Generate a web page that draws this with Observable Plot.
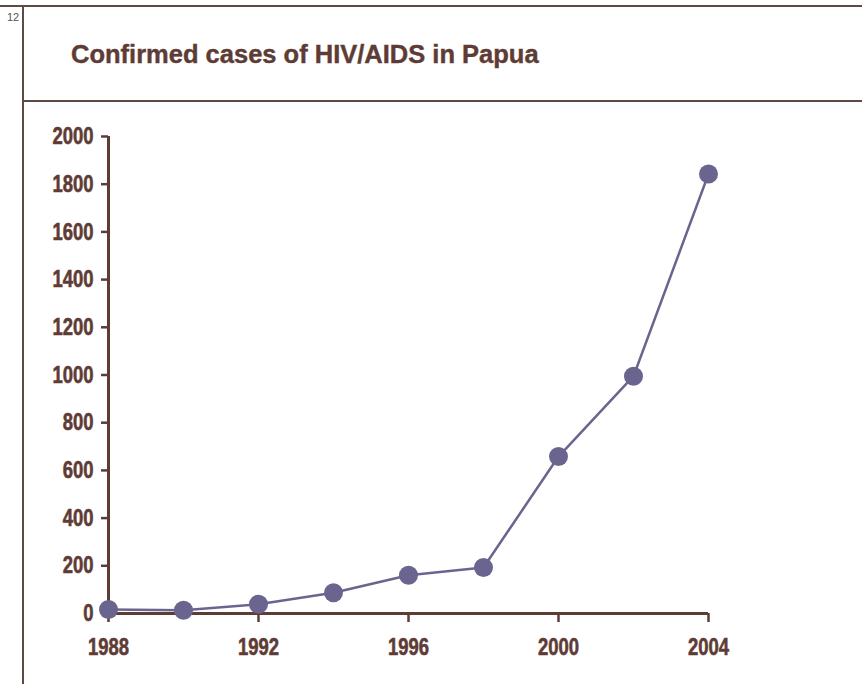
<!DOCTYPE html>
<html>
<head>
<meta charset="utf-8">
<script src="https://cdn.jsdelivr.net/npm/d3@7"></script>
<script src="https://cdn.jsdelivr.net/npm/@observablehq/plot@0.6"></script>
<style>
  html, body { margin: 0; padding: 0; background: #fff; }
  #page { position: relative; width: 862px; height: 684px; overflow: hidden; background: #fff; }
  .frame { position: absolute; background: #5e4a45; }
  #pnum { position: absolute; left: 7px; top: 11px; font: 11px "Liberation Sans", Arial, sans-serif; color: #555; }
  #title { position: absolute; left: 71px; top: 40px; font: bold 25.5px "Liberation Sans", Arial, sans-serif; color: #5e3c35; white-space: nowrap; -webkit-text-stroke: 0.4px #5e3c35; }
  #chart { position: absolute; left: 0; top: 100px; }
</style>
</head>
<body>
<div id="page">
  <div class="frame" style="left:0;top:5px;width:862px;height:1.5px;"></div>
  <div class="frame" style="left:22px;top:5px;width:1.5px;height:679px;"></div>
  <div class="frame" style="left:22px;top:100px;width:840px;height:1.5px;"></div>
  <div id="pnum">12</div>
  <div id="title">Confirmed cases of HIV/AIDS in Papua</div>
  <div id="chart"></div>
</div>
<script>
const years = [1988, 1990, 1992, 1994, 1996, 1998, 2000, 2002, 2004];
const cases = [17, 14, 39, 87, 160, 193, 658, 995, 1843];
const xTicks = [1988, 1992, 1996, 2000, 2004];
const yTicks = [0, 200, 400, 600, 800, 1000, 1200, 1400, 1600, 1800, 2000];

const data = years.map((y, i) => ({year: y, cases: cases[i]}));
const brown = "#5e3c35";
const line = "#69658f";
const font = '"Liberation Sans", Arial, sans-serif';

const plot = Plot.plot({
  width: 862,
  height: 584,
  marginLeft: 108,
  marginRight: 154,
  marginTop: 36,
  marginBottom: 71,
  style: {fontFamily: font, fontSize: "24px", fontWeight: "bold", color: brown, overflow: "visible"},
  x: {domain: [1988, 2004]},
  y: {domain: [0, 2000]},
  marks: [
    Plot.axisY({ticks: yTicks, tickSize: 7, tickPadding: 8, tickFormat: d => String(d), label: null, stroke: brown, strokeWidth: 2.5, fill: brown, fontSize: 24, fontWeight: "bold"}),
    Plot.axisX({ticks: xTicks, tickSize: 9, tickPadding: 15, tickFormat: d => String(d), label: null, stroke: brown, strokeWidth: 2.5, fill: brown, fontSize: 24, fontWeight: "bold"}),
    Plot.ruleX([1988], {y1: 0, y2: 2000, stroke: brown, strokeWidth: 3}),
    Plot.ruleY([0], {x1: 1988, x2: 2004, stroke: brown, strokeWidth: 3}),
    Plot.line(data, {x: "year", y: "cases", stroke: line, strokeWidth: 2.5}),
    Plot.dot(data, {x: "year", y: "cases", r: 9.5, fill: line, stroke: "none"})
  ]
});
// condense the tick labels horizontally (reference uses a condensed face)
d3.select(plot).selectAll("g[aria-label='y-axis tick label'] text, g[aria-label='x-axis tick label'] text")
  .each(function() {
    const t = this.getAttribute("transform") || "";
    this.setAttribute("transform", t + " scale(0.77,1)");
    this.setAttribute("stroke", brown);
    this.setAttribute("stroke-width", "0.6");
  });
document.getElementById("chart").appendChild(plot);
</script>
</body>
</html>
